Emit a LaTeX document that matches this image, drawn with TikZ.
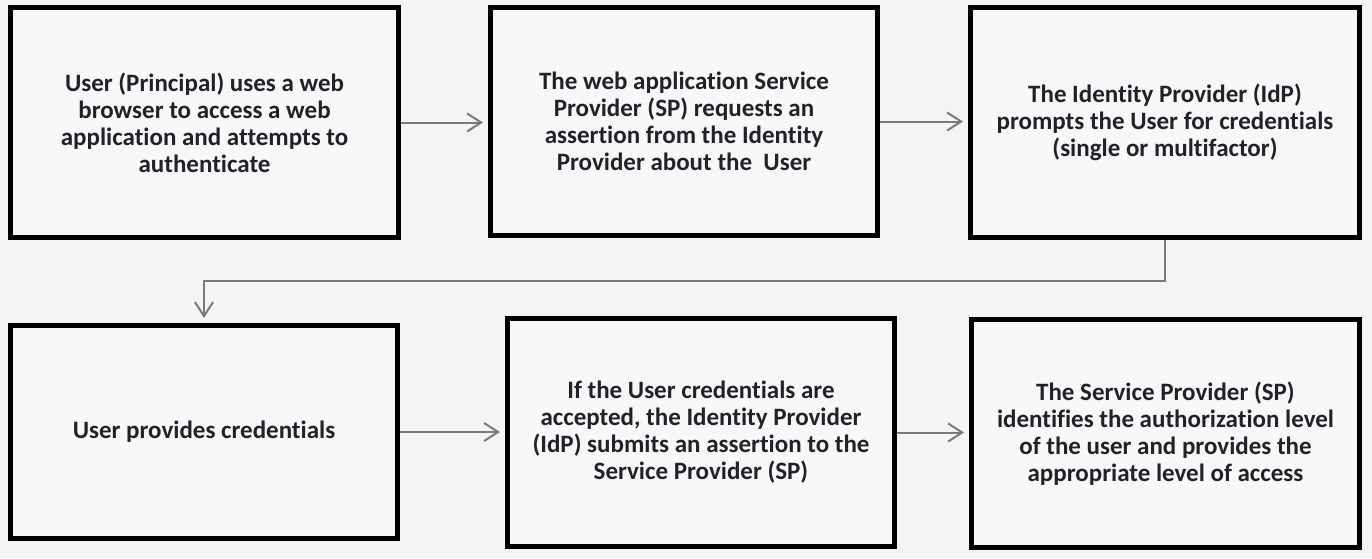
\documentclass[tikz,border=0pt]{standalone}
\usepackage{fontspec}
\setmainfont{Carlito}[Ligatures=NoCommon]
\usetikzlibrary{arrows.meta}
\definecolor{bg}{HTML}{F4F4F4}
\definecolor{boxfill}{HTML}{F8F8F8}
\definecolor{txt}{HTML}{24202A}
\definecolor{arrcol}{HTML}{7A7A7A}
\tikzset{
  stepbox/.style={draw=black, fill=boxfill, line width=2.5pt, align=center,
    text=txt, font=\fontsize{12.5}{13.5}\selectfont\bfseries, inner sep=0pt},
  arr/.style={draw=arrcol, line width=1pt, -{Straight Barb[length=7pt,width=9pt,line width=1pt]}, shorten >=2.5pt}
}
\begin{document}
\begin{tikzpicture}[x=0.5pt,y=-0.5pt]
\useasboundingbox[fill=bg] (0,0) rectangle (1372,558);
\node[stepbox, minimum width=194pt, minimum height=115pt] (b1) at (204.5,122.5)
  {User (Principal) uses a web\\browser to access a web\\application and attempts to\\authenticate};
\node[stepbox, minimum width=193.5pt, minimum height=114pt] (b2) at (684,121.5)
  {The web application Service\\Provider (SP) requests an\\assertion from the Identity\\Provider about the\ \ User};
\node[stepbox, minimum width=194.5pt, minimum height=115pt] (b3) at (1165,122.5)
  {The Identity Provider (IdP)\\prompts the User for credentials\\(single or multifactor)};
\node[stepbox, minimum width=193.5pt, minimum height=106.5pt] (b4) at (204,432)
  {User provides credentials};
\node[stepbox, minimum width=193.5pt, minimum height=114pt] (b5) at (701,432.5)
  {If the User credentials are\\accepted, the Identity Provider\\(IdP) submits an assertion to the\\Service Provider (SP)};
\node[stepbox, minimum width=194pt, minimum height=114pt] (b6) at (1165.5,433.5)
  {The Service Provider (SP)\\identifies the authorization level\\of the user and provides the\\appropriate level of access};
\coordinate (mid) at (0,281);
\draw[arr] (b1.east) -- (b1.east -| b2.west);
\draw[arr] (b2.east) -- (b2.east -| b3.west);
\draw[arr] (b3.south) |- (mid -| b4.north) -- (b4.north);
\draw[arr] (b4.east) -- (b4.east -| b5.west);
\draw[arr] (b5.east) -- (b5.east -| b6.west);
\end{tikzpicture}
\end{document}
